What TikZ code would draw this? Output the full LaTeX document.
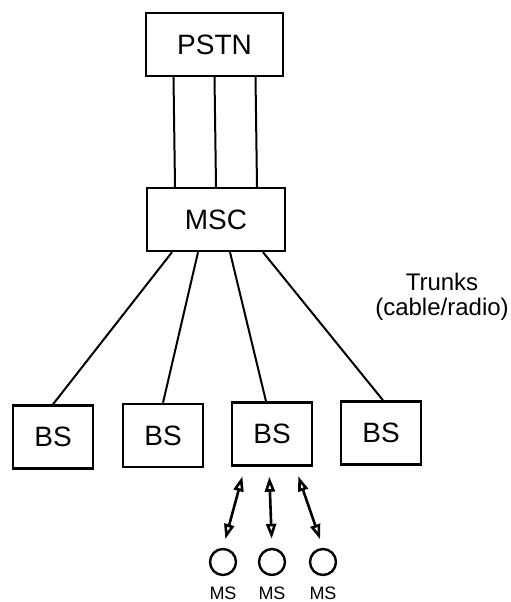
\documentclass[tikz,border=0pt]{standalone}
\usepackage{fontspec}
\setmainfont{Liberation Sans}
\usetikzlibrary{arrows.meta}

\begin{document}
\begin{tikzpicture}[x=1pt, y=-1pt,
  box/.style={draw, line width=2.4pt, minimum width=#1, minimum height=63pt,
              inner sep=0pt, font=\fontsize{28}{30}\selectfont},
  box/.default=80pt,
  trunk/.style={line width=2pt},
  radio/.style={line width=2.6pt,
                {Triangle[open,length=15pt,width=10pt]}-{Triangle[open,length=15pt,width=10pt]},
                shorten <=10pt, shorten >=9pt},
  mobile/.style={draw, circle, line width=2.4pt, minimum size=26pt, inner sep=0pt},
  tag/.style={font=\fontsize{18}{20}\selectfont}]

 \useasboundingbox (0,0) rectangle (511,602);

 % switching level
 \node (pstn) [box=137pt] at (214.5,44.5) {PSTN};
 \node (msc)  [box=138pt] at (216,219.5) {MSC};

 \foreach \dx in {-41,0,41}
   \draw[trunk] ([xshift=\dx pt]pstn.south) -- ([xshift=\dx pt]msc.north);

 % base stations
 \foreach \n/\x/\y in {bs1/53/437, bs2/163/435.5, bs3/272/434, bs4/381/433}
   \node (\n) [box] at (\x,\y) {BS};

 \draw[trunk] ([xshift=-44pt]msc.south) -- (bs1.north);
 \draw[trunk] ([xshift=-18pt]msc.south) -- (bs2.north);
 \draw[trunk] ([xshift=14pt]msc.south)  -- ([xshift=-6pt]bs3.north);
 \draw[trunk] ([xshift=47pt]msc.south)  -- ([xshift=2pt]bs4.north);

 \node (trunks) [align=center, inner sep=0pt, font=\fontsize{24}{25}\selectfont]
   at (442,297) {Trunks\\(cable/radio)};

 % mobiles
 \foreach \n/\x/\dx in {ms1/223/-27, ms2/272/-3, ms3/323/23} {
   \node (\n) [mobile] at (\x,562) {};
   \node (\n-tag) [tag] at (\x,593) {MS};
   \draw[radio] ([xshift=\dx pt]bs3.south) -- (\n.north);
 }

\end{tikzpicture}
\end{document}
